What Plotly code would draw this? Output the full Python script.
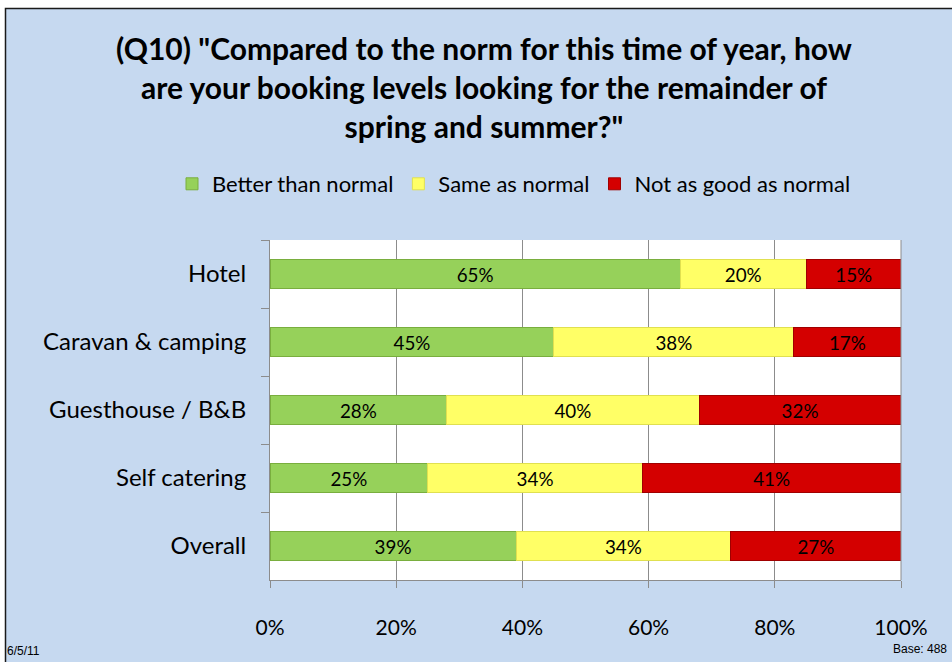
'''
    Stacked horizontal bar chart: booking levels vs the norm (Q10).
'''
import plotly.graph_objects as go

CATEGORIES = ["Hotel", "Caravan & camping", "Guesthouse / B&B", "Self catering", "Overall"]
SERIES = ["Better than normal", "Same as normal", "Not as good as normal"]
BETTER = [65, 45, 28, 25, 39]
SAME = [20, 38, 40, 34, 34]
WORSE = [15, 17, 32, 41, 27]
X_TICKS = [0, 20, 40, 60, 80, 100]
X_TICK_LABELS = ["0%", "20%", "40%", "60%", "80%", "100%"]

COLORS = ["#96D15A", "#FFFF66", "#D40000"]
LINES = ["#79AE3E", "#E0E050", "#A00000"]

FONT = "Lato, 'Open Sans', Arial, sans-serif"
BG = "#C6D9F0"

# plot area in pixels
W, H = 952, 662
L, R, T, B = 270, 901, 240, 580


def px_x(p):
    return (p - L) / (R - L)


def px_y(p):
    return (B - p) / (B - T)


fig = go.Figure()
for name, vals, col, lc in zip(SERIES, [BETTER, SAME, WORSE], COLORS, LINES):
    fig.add_trace(go.Bar(
        name=name,
        y=CATEGORIES,
        x=vals,
        orientation="h",
        width=0.42,
        marker=dict(color=col, line=dict(color=lc, width=1)),
        text=[f"{v}%" for v in vals],
        textposition="inside",
        insidetextanchor="middle",
        textfont=dict(family=FONT, size=20, color="#000000"),
        textangle=0,
    ))

fig.update_xaxes(
    range=[0, 100],
    tickmode="array",
    tickvals=X_TICKS,
    ticktext=X_TICK_LABELS,
    showgrid=True,
    gridcolor="#8C8C8C",
    gridwidth=1,
    zeroline=False,
    showline=True,
    linecolor="#8C8C8C",
    mirror=False,
    ticks="outside",
    ticklen=7,
    tickcolor="#8C8C8C",
    tickfont=dict(family=FONT, size=21, color="#000000"),
    ticklabelstandoff=22,
    automargin=False,
)

fig.update_yaxes(
    autorange="reversed",
    showgrid=False,
    showline=True,
    linecolor="#8C8C8C",
    ticks="outside",
    tickson="boundaries",
    ticklen=8,
    tickcolor="#8C8C8C",
    tickfont=dict(family=FONT, size=24, color="#000000"),
    ticklabelstandoff=18,
    automargin=False,
)

shapes = [
    # white strips round the slide frame
    dict(type="rect", xref="paper", yref="paper", x0=px_x(-5), x1=px_x(W + 5),
         y0=px_y(-5), y1=px_y(8), fillcolor="white", line=dict(width=0), layer="below"),
    dict(type="rect", xref="paper", yref="paper", x0=px_x(-5), x1=px_x(5),
         y0=px_y(-5), y1=px_y(H + 5), fillcolor="white", line=dict(width=0), layer="below"),
    # frame border
    dict(type="rect", xref="paper", yref="paper", x0=px_x(5.5), x1=px_x(W + 10),
         y0=px_y(8.5), y1=px_y(H + 10), line=dict(color="#1A1A1A", width=1.5)),
    # right edge of plot area
    dict(type="line", xref="paper", yref="paper", x0=1, x1=1, y0=0, y1=1,
         line=dict(color="#8C8C8C", width=1)),
]

annotations = [
    dict(text="6/5/11", xref="paper", yref="paper", x=px_x(5), y=px_y(651),
         xanchor="left", yanchor="middle", showarrow=False,
         font=dict(family="Liberation Sans, Arial", size=12, color="#000000")),
    dict(text="Base: 488", xref="paper", yref="paper", x=px_x(949), y=px_y(649),
         xanchor="right", yanchor="middle", showarrow=False,
         font=dict(family="Liberation Sans, Arial", size=12, color="#000000")),
]

fig.update_layout(
    width=W,
    height=H,
    barmode="stack",
    paper_bgcolor=BG,
    plot_bgcolor="#FFFFFF",
    margin=dict(l=L, r=W - R, t=T, b=H - B, pad=0, autoexpand=False),
    font=dict(family=FONT, size=20, color="#000000"),
    title=dict(
        text="(Q10) \"Compared to the norm for this time of year, how<br>"
             "are your booking levels looking for the remainder of<br>"
             "spring and summer?\"",
        x=484 / W,
        xanchor="center",
        y=1 - 60 / H,
        yanchor="top",
        font=dict(family=FONT, size=30, color="#000000", weight="bold"),
    ),
    # x < 0 with a left anchor above the plot lets the legend use the left margin too
    legend=dict(
        orientation="h",
        x=px_x(172),
        xref="paper",
        xanchor="left",
        y=px_y(184),
        yref="paper",
        yanchor="middle",
        font=dict(family=FONT, size=22, color="#000000"),
        bgcolor="rgba(0,0,0,0)",
        traceorder="normal",
        itemwidth=30,
    ),
    showlegend=True,
    shapes=shapes,
    annotations=annotations,
    bargap=0.58,
)

fig.write_html(
    "out.html",
    config={"displayModeBar": False},
    post_script="document.body.style.margin='0';",
)
